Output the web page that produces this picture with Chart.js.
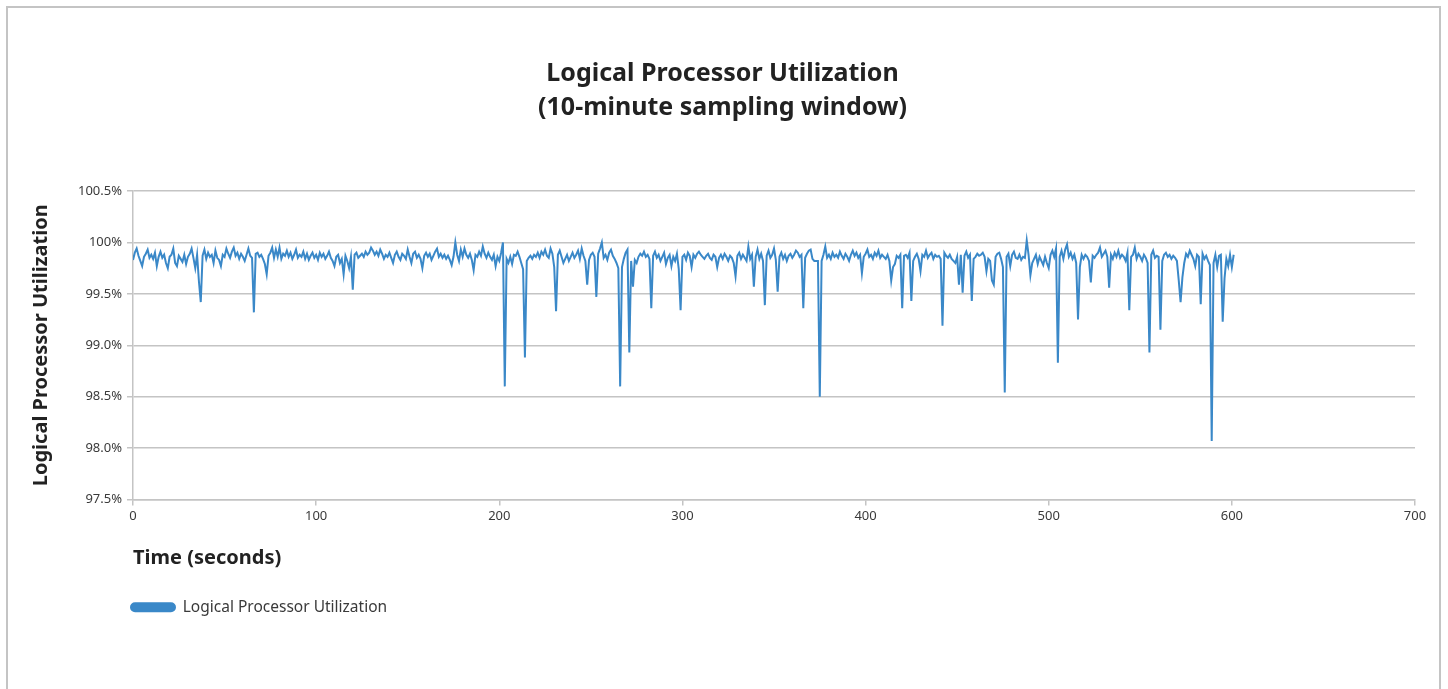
<!DOCTYPE html>
<html>
<head>
<meta charset="utf-8">
<title>Logical Processor Utilization</title>
<script src="https://cdn.jsdelivr.net/npm/chart.js@4"></script>
<style>
  html, body { margin: 0; padding: 0; background: #fff; overflow: hidden; }
  #frame { position: absolute; left: 6px; top: 6px; width: 1431px; height: 700px; border: 2px solid #c4c4c4; border-bottom: none; }
  canvas { position: absolute; left: 0; top: 0; }
</style>
</head>
<body>
<div id="frame"></div>
<canvas id="utilChart" width="1448" height="689"></canvas>
<script>
const chartTitle = ['Logical Processor Utilization', '(10-minute sampling window)'];
const seriesName = 'Logical Processor Utilization';
const xAxisLabel = 'Time (seconds)';
const yAxisLabel = 'Logical Processor Utilization';

// one sample per second, starting at t = 0
const utilization = [
  99.83, 99.90, 99.94, 99.87, 99.82, 99.77, 99.86, 99.89, 99.93, 99.85, 99.88, 99.84, 99.90, 99.77, 99.86, 99.91, 99.85, 99.88, 99.80, 99.75,
  99.86, 99.88, 99.94, 99.80, 99.77, 99.87, 99.84, 99.81, 99.88, 99.79, 99.86, 99.89, 99.94, 99.85, 99.75, 99.88, 99.62, 99.42, 99.87, 99.93,
  99.84, 99.90, 99.86, 99.88, 99.80, 99.92, 99.85, 99.83, 99.77, 99.88, 99.86, 99.94, 99.89, 99.85, 99.91, 99.95, 99.87, 99.90, 99.84, 99.89,
  99.86, 99.82, 99.88, 99.94, 99.87, 99.85, 99.32, 99.89, 99.90, 99.86, 99.88, 99.84, 99.79, 99.69, 99.87, 99.90, 99.95, 99.85, 99.93, 99.86,
  99.95, 99.84, 99.89, 99.87, 99.92, 99.86, 99.90, 99.84, 99.88, 99.93, 99.85, 99.88, 99.86, 99.91, 99.84, 99.89, 99.83, 99.87, 99.90, 99.85,
  99.88, 99.83, 99.90, 99.86, 99.89, 99.84, 99.87, 99.91, 99.85, 99.82, 99.77, 99.86, 99.88, 99.80, 99.84, 99.69, 99.87, 99.82, 99.75, 99.86,
  99.54, 99.88, 99.90, 99.85, 99.87, 99.89, 99.86, 99.91, 99.88, 99.90, 99.95, 99.92, 99.88, 99.91, 99.87, 99.93, 99.89, 99.84, 99.88, 99.86,
  99.90, 99.85, 99.80, 99.88, 99.91, 99.86, 99.83, 99.89, 99.87, 99.84, 99.93, 99.86, 99.80, 99.89, 99.91, 99.85, 99.88, 99.84, 99.75, 99.87,
  99.90, 99.86, 99.89, 99.83, 99.87, 99.91, 99.94, 99.86, 99.89, 99.85, 99.88, 99.84, 99.87, 99.83, 99.78, 99.86, 100.00, 99.88, 99.82, 99.93,
  99.86, 99.94, 99.88, 99.85, 99.89, 99.83, 99.73, 99.88, 99.86, 99.91, 99.87, 99.96, 99.89, 99.85, 99.90, 99.86, 99.83, 99.88, 99.77, 99.86,
  99.82, 99.90, 100.00, 98.60, 99.84, 99.80, 99.86, 99.79, 99.88, 99.87, 99.91, 99.86, 99.80, 99.74, 98.88, 99.82, 99.85, 99.87, 99.84, 99.88,
  99.86, 99.90, 99.85, 99.91, 99.88, 99.93, 99.87, 99.85, 99.94, 99.89, 99.76, 99.33, 99.88, 99.92, 99.86, 99.80, 99.84, 99.88, 99.82, 99.86,
  99.90, 99.85, 99.88, 99.92, 99.84, 99.94, 99.87, 99.82, 99.59, 99.83, 99.88, 99.90, 99.86, 99.47, 99.89, 99.94, 100.00, 99.85, 99.88, 99.83,
  99.90, 99.93, 99.87, 99.84, 99.80, 99.75, 98.60, 99.76, 99.84, 99.90, 99.93, 98.93, 99.82, 99.57, 99.83, 99.80, 99.86, 99.89, 99.87, 99.91,
  99.86, 99.88, 99.84, 99.36, 99.87, 99.91, 99.85, 99.88, 99.82, 99.86, 99.90, 99.79, 99.85, 99.88, 99.77, 99.86, 99.82, 99.89, 99.74, 99.34,
  99.86, 99.88, 99.83, 99.90, 99.87, 99.76, 99.88, 99.85, 99.89, 99.91, 99.88, 99.86, 99.84, 99.87, 99.89, 99.85, 99.83, 99.88, 99.86, 99.76,
  99.85, 99.88, 99.84, 99.89, 99.86, 99.82, 99.87, 99.85, 99.80, 99.67, 99.87, 99.90, 99.84, 99.88, 99.85, 99.82, 99.96, 99.84, 99.88, 99.57,
  99.86, 99.93, 99.84, 99.89, 99.82, 99.39, 99.87, 99.92, 99.85, 99.88, 99.94, 99.83, 99.52, 99.86, 99.90, 99.84, 99.88, 99.82, 99.87, 99.89,
  99.85, 99.88, 99.92, 99.90, 99.86, 99.88, 99.36, 99.85, 99.89, 99.92, 99.93, 99.84, 99.82, 99.82, 99.82, 98.50, 99.82, 99.88, 99.96, 99.85,
  99.88, 99.84, 99.90, 99.86, 99.88, 99.85, 99.91, 99.87, 99.84, 99.89, 99.86, 99.82, 99.88, 99.92, 99.87, 99.90, 99.85, 99.88, 99.70, 99.86,
  99.89, 99.93, 99.86, 99.88, 99.84, 99.90, 99.87, 99.92, 99.85, 99.88, 99.86, 99.84, 99.88, 99.82, 99.63, 99.76, 99.79, 99.87, 99.85, 99.88,
  99.36, 99.87, 99.88, 99.85, 99.90, 99.43, 99.82, 99.86, 99.89, 99.84, 99.72, 99.88, 99.86, 99.92, 99.85, 99.88, 99.90, 99.84, 99.88, 99.86,
  99.87, 99.84, 99.19, 99.90, 99.87, 99.85, 99.88, 99.84, 99.82, 99.80, 99.86, 99.59, 99.88, 99.51, 99.87, 99.91, 99.85, 99.88, 99.43, 99.84,
  99.86, 99.89, 99.87, 99.88, 99.90, 99.86, 99.72, 99.84, 99.82, 99.63, 99.59, 99.86, 99.89, 99.90, 99.84, 99.76, 98.54, 99.86, 99.89, 99.77,
  99.88, 99.91, 99.85, 99.84, 99.88, 99.83, 99.86, 99.85, 100.02, 99.88, 99.68, 99.80, 99.84, 99.88, 99.79, 99.86, 99.82, 99.78, 99.86, 99.80,
  99.75, 99.88, 99.92, 99.86, 99.94, 98.83, 99.86, 99.92, 99.84, 99.93, 99.98, 99.86, 99.90, 99.84, 99.88, 99.80, 99.25, 99.76, 99.88, 99.84,
  99.88, 99.86, 99.82, 99.61, 99.87, 99.85, 99.88, 99.90, 99.95, 99.86, 99.89, 99.92, 99.86, 99.56, 99.88, 99.84, 99.90, 99.86, 99.92, 99.85,
  99.88, 99.86, 99.82, 99.90, 99.34, 99.86, 99.88, 99.95, 99.84, 99.89, 99.86, 99.82, 99.88, 99.85, 99.80, 98.93, 99.88, 99.92, 99.85, 99.87,
  99.86, 99.15, 99.82, 99.88, 99.90, 99.86, 99.88, 99.84, 99.87, 99.85, 99.82, 99.63, 99.42, 99.66, 99.80, 99.89, 99.86, 99.92, 99.88, 99.84,
  99.77, 99.88, 99.86, 99.40, 99.89, 99.84, 99.87, 99.82, 99.78, 98.07, 99.80, 99.88, 99.76, 99.87, 99.88, 99.23, 99.65, 99.84, 99.77, 99.88,
  99.76, 99.88
];

const lineBlue = '#3a88c8';
const gridGrey = '#c4c4c4';
const textDark = '#222222';
const tickText = '#3a3a3a';
const fontFamily = "'Noto Sans', 'Open Sans', sans-serif";

// Excel-style legend sits flush with the plot area, not with the canvas edge
const legendToPlotEdge = {
  id: 'legendToPlotEdge',
  afterLayout(chart) {
    const legend = chart.legend;
    legend.left = chart.chartArea.left - legend.options.labels.padding - 2;
  }
};

const ctx = document.getElementById('utilChart').getContext('2d');

const utilChart = new Chart(ctx, {
  type: 'line',
  data: {
    datasets: [{
      label: seriesName,
      data: utilization.map((v, i) => ({ x: i, y: v })),
      borderColor: lineBlue,
      backgroundColor: lineBlue,
      borderWidth: 2,
      pointRadius: 0,
      tension: 0,
    }],
  },
  options: {
    responsive: false,
    animation: false,
    layout: {
      padding: { left: 30, right: 33, top: 57, bottom: 64 },
    },
    plugins: {
      title: {
        display: true,
        text: chartTitle,
        color: textDark,
        font: { family: fontFamily, size: 25, weight: 'bold', lineHeight: 1.36 },
        padding: { top: 0, bottom: 66 },
      },
      legend: {
        position: 'bottom',
        align: 'start',
        labels: {
          boxWidth: 44,
          boxHeight: 8,
          useBorderRadius: true,
          borderRadius: 4,
          padding: 10,
          color: tickText,
          font: { family: fontFamily, size: 15.5 },
        },
      },
      tooltip: { enabled: false },
    },
    scales: {
      x: {
        type: 'linear',
        min: 0,
        max: 700,
        ticks: {
          stepSize: 100,
          color: tickText,
          font: { family: fontFamily, size: 13 },
          padding: 3,
          maxRotation: 0,
        },
        grid: {
          drawOnChartArea: false,
          drawTicks: true,
          tickLength: 6,
          color: gridGrey,
          lineWidth: 1.5,
        },
        border: { color: gridGrey, width: 1.5 },
        title: {
          display: true,
          text: xAxisLabel,
          align: 'start',
          color: textDark,
          font: { family: fontFamily, size: 20, weight: 'bold', lineHeight: 1.2 },
          padding: { top: 0, bottom: 19 },
        },
        afterFit(scale) { scale.height = 90; },
      },
      y: {
        min: 97.5,
        max: 100.5,
        ticks: {
          stepSize: 0.5,
          color: tickText,
          font: { family: fontFamily, size: 13 },
          padding: 5,
          callback: (v) => (v === 100 ? '100%' : v.toFixed(1) + '%'),
        },
        grid: {
          color: gridGrey,
          lineWidth: 1.5,
          tickLength: 6,
        },
        border: { color: gridGrey, width: 1.5 },
        title: {
          display: true,
          text: yAxisLabel,
          color: textDark,
          font: { family: fontFamily, size: 20, weight: 'bold', lineHeight: 1.1 },
          padding: { top: 0, bottom: 0 },
        },
        afterFit(scale) { scale.width = 103; },
      },
    },
  },
  plugins: [legendToPlotEdge],
});
</script>
</body>
</html>
